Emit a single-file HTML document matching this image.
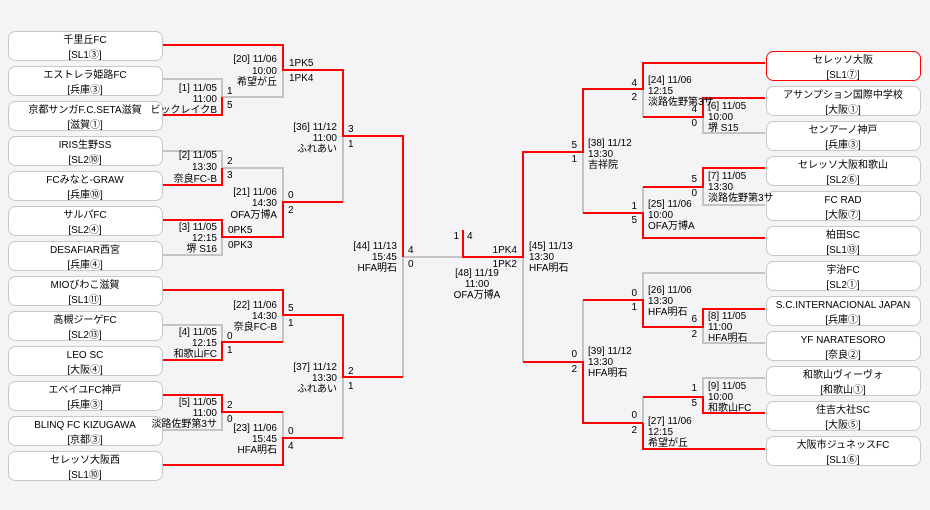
<!DOCTYPE html>
<html><head><meta charset="utf-8"><style>
html,body{margin:0;padding:0;background:#f4f3f6;}
svg{display:block;font-family:"Liberation Sans","Noto Sans CJK JP",sans-serif;font-size:10px;}
</style></head><body>
<svg width="930" height="510" viewBox="0 0 930 510" xmlns="http://www.w3.org/2000/svg">
<rect width="930" height="510" fill="#f4f3f6"/>
<g fill="none" stroke="#c4c4c4" stroke-width="2">
<path d="M283 70V97H222"/><path d="M163 79H222V97"/><path d="M343 136V202"/>
<path d="M163 151H222V168H283V202"/><path d="M222 237V255H163"/>
<path d="M403 257V377"/><path d="M403 257H463"/>
<path d="M163 325H222V342"/><path d="M283 315V342"/><path d="M343 377V438"/>
<path d="M283 412V438"/><path d="M222 412V430H163"/>
<path d="M523 257V362"/><path d="M583 152V213"/><path d="M643 89V117"/>
<path d="M703 117V133H765"/><path d="M703 187V205H765"/><path d="M643 187V213"/>
<path d="M765 273H643V300"/><path d="M703 327V343H765"/><path d="M583 300V362"/>
<path d="M643 397V423"/><path d="M765 378H703V397"/>
</g>
<g fill="none" stroke="#ff0000" stroke-width="2">
<path d="M163 45H283V70H343V136H403V257"/>
<path d="M463 230V257H523V152H583V89H643V63H765"/>
<path d="M163 115H222V97"/><path d="M163 185H222V168"/>
<path d="M163 220H222V237H283V202H343"/>
<path d="M163 290H283V315H343V377H403"/>
<path d="M163 360H222V342H283"/><path d="M163 395H222V412H283"/>
<path d="M163 465H283V438H343"/>
<path d="M643 117H703V98H765"/><path d="M765 168H703V187H643"/>
<path d="M583 213H643V238H765"/>
<path d="M523 362H583V423H643"/><path d="M643 423V449H765"/>
<path d="M643 397H703V413H765"/>
<path d="M583 300H643V327H703V309H765"/>
</g>
<g stroke="#c8c8c8" stroke-width="1" fill="#fff">
<rect x="8.5" y="31.5" width="154" height="29" rx="7"/>
<rect x="8.5" y="66.5" width="154" height="29" rx="7"/>
<rect x="8.5" y="101.5" width="154" height="29" rx="7"/>
<rect x="8.5" y="136.5" width="154" height="29" rx="7"/>
<rect x="8.5" y="171.5" width="154" height="29" rx="7"/>
<rect x="8.5" y="206.5" width="154" height="29" rx="7"/>
<rect x="8.5" y="241.5" width="154" height="29" rx="7"/>
<rect x="8.5" y="276.5" width="154" height="29" rx="7"/>
<rect x="8.5" y="311.5" width="154" height="29" rx="7"/>
<rect x="8.5" y="346.5" width="154" height="29" rx="7"/>
<rect x="8.5" y="381.5" width="154" height="29" rx="7"/>
<rect x="8.5" y="416.5" width="154" height="29" rx="7"/>
<rect x="8.5" y="451.5" width="154" height="29" rx="7"/>
<rect x="766.5" y="51.5" width="154" height="29" rx="7" stroke="#ff0000"/>
<rect x="766.5" y="86.5" width="154" height="29" rx="7"/>
<rect x="766.5" y="121.5" width="154" height="29" rx="7"/>
<rect x="766.5" y="156.5" width="154" height="29" rx="7"/>
<rect x="766.5" y="191.5" width="154" height="29" rx="7"/>
<rect x="766.5" y="226.5" width="154" height="29" rx="7"/>
<rect x="766.5" y="261.5" width="154" height="29" rx="7"/>
<rect x="766.5" y="296.5" width="154" height="29" rx="7"/>
<rect x="766.5" y="331.5" width="154" height="29" rx="7"/>
<rect x="766.5" y="366.5" width="154" height="29" rx="7"/>
<rect x="766.5" y="401.5" width="154" height="29" rx="7"/>
<rect x="766.5" y="436.5" width="154" height="29" rx="7"/>
</g>
<g fill="#000" text-anchor="middle">
<text x="85" y="43">千里丘FC</text><text x="85" y="58">[SL1③]</text>
<text x="85" y="78">エストレラ姫路FC</text><text x="85" y="93">[兵庫③]</text>
<text x="85" y="113">京都サンガF.C.SETA滋賀</text><text x="85" y="128">[滋賀①]</text>
<text x="85" y="148">IRIS生野SS</text><text x="85" y="163">[SL2⑩]</text>
<text x="85" y="183">FCみなと-GRAW</text><text x="85" y="198">[兵庫⑩]</text>
<text x="85" y="218">サルパFC</text><text x="85" y="233">[SL2④]</text>
<text x="85" y="253">DESAFIAR西宮</text><text x="85" y="268">[兵庫④]</text>
<text x="85" y="288">MIOびわこ滋賀</text><text x="85" y="303">[SL1⑪]</text>
<text x="85" y="323">高槻ジーゲFC</text><text x="85" y="338">[SL2⑬]</text>
<text x="85" y="358">LEO SC</text><text x="85" y="373">[大阪④]</text>
<text x="85" y="393">エベイユFC神戸</text><text x="85" y="408">[兵庫③]</text>
<text x="85" y="428">BLINQ FC KIZUGAWA</text><text x="85" y="443">[京都③]</text>
<text x="85" y="463">セレッソ大阪西</text><text x="85" y="478">[SL1⑩]</text>
<text x="843" y="63">セレッソ大阪</text><text x="843" y="78">[SL1⑦]</text>
<text x="843" y="98">アサンプション国際中学校</text><text x="843" y="113">[大阪①]</text>
<text x="843" y="133">センアーノ神戸</text><text x="843" y="148">[兵庫③]</text>
<text x="843" y="168">セレッソ大阪和歌山</text><text x="843" y="183">[SL2⑥]</text>
<text x="843" y="203">FC RAD</text><text x="843" y="218">[大阪⑦]</text>
<text x="843" y="238">柏田SC</text><text x="843" y="253">[SL1⑬]</text>
<text x="843" y="273">宇治FC</text><text x="843" y="288">[SL2①]</text>
<text x="843" y="308">S.C.INTERNACIONAL JAPAN</text><text x="843" y="323">[兵庫①]</text>
<text x="843" y="343">YF NARATESORO</text><text x="843" y="358">[奈良②]</text>
<text x="843" y="378">和歌山ヴィーヴォ</text><text x="843" y="393">[和歌山①]</text>
<text x="843" y="413">住吉大社SC</text><text x="843" y="428">[大阪⑤]</text>
<text x="843" y="448">大阪市ジュネッスFC</text><text x="843" y="463">[SL1⑥]</text>
<text x="477" y="276">[48] 11/19</text><text x="477" y="287">11:00</text><text x="477" y="298">OFA万博A</text>
</g>
<g fill="#000" text-anchor="end">
<text x="277" y="62">[20] 11/06</text><text x="277" y="74">10:00</text><text x="277" y="85">希望が丘</text>
<text x="217" y="91">[1] 11/05</text><text x="217" y="102">11:00</text><text x="217" y="113">ビックレイクB</text>
<text x="337" y="130">[36] 11/12</text><text x="337" y="141">11:00</text><text x="337" y="152">ふれあい</text>
<text x="217" y="158">[2] 11/05</text><text x="217" y="170">13:30</text><text x="217" y="182">奈良FC-B</text>
<text x="277" y="195">[21] 11/06</text><text x="277" y="206">14:30</text><text x="277" y="218">OFA万博A</text>
<text x="217" y="230">[3] 11/05</text><text x="217" y="241">12:15</text><text x="217" y="252">堺 S16</text>
<text x="397" y="249">[44] 11/13</text><text x="397" y="260">15:45</text><text x="397" y="271">HFA明石</text>
<text x="277" y="308">[22] 11/06</text><text x="277" y="319">14:30</text><text x="277" y="330">奈良FC-B</text>
<text x="217" y="335">[4] 11/05</text><text x="217" y="346">12:15</text><text x="217" y="357">和歌山FC</text>
<text x="337" y="370">[37] 11/12</text><text x="337" y="381">13:30</text><text x="337" y="392">ふれあい</text>
<text x="217" y="405">[5] 11/05</text><text x="217" y="416">11:00</text><text x="217" y="427">淡路佐野第3サ</text>
<text x="277" y="431">[23] 11/06</text><text x="277" y="442">15:45</text><text x="277" y="453">HFA明石</text>
<text x="459" y="239">1</text>
<text x="517" y="253">1PK4</text><text x="517" y="267">1PK2</text>
<text x="577" y="148">5</text><text x="577" y="162">1</text>
<text x="637" y="86">4</text><text x="637" y="100">2</text>
<text x="697" y="112">4</text><text x="697" y="126">0</text>
<text x="697" y="182">5</text><text x="697" y="196">0</text>
<text x="637" y="209">1</text><text x="637" y="223">5</text>
<text x="637" y="296">0</text><text x="637" y="310">1</text>
<text x="697" y="322">6</text><text x="697" y="337">2</text>
<text x="577" y="357">0</text><text x="577" y="372">2</text>
<text x="697" y="391">1</text><text x="697" y="406">5</text>
<text x="637" y="418">0</text><text x="637" y="433">2</text>
</g>
<g fill="#000">
<text x="289" y="66">1PK5</text><text x="289" y="81">1PK4</text>
<text x="227" y="94">1</text><text x="227" y="108">5</text>
<text x="348" y="132">3</text><text x="348" y="147">1</text>
<text x="227" y="164">2</text><text x="227" y="178">3</text>
<text x="288" y="198">0</text><text x="288" y="213">2</text>
<text x="228" y="233">0PK5</text><text x="228" y="248">0PK3</text>
<text x="408" y="253">4</text><text x="408" y="267">0</text>
<text x="467" y="239">4</text>
<text x="529" y="249">[45] 11/13</text><text x="529" y="260">13:30</text><text x="529" y="271">HFA明石</text>
<text x="588" y="146">[38] 11/12</text><text x="588" y="157">13:30</text><text x="588" y="168">吉祥院</text>
<text x="648" y="83">[24] 11/06</text><text x="648" y="94">12:15</text><text x="648" y="105">淡路佐野第3サ</text>
<text x="708" y="109">[6] 11/05</text><text x="708" y="120">10:00</text><text x="708" y="131">堺 S15</text>
<text x="708" y="179">[7] 11/05</text><text x="708" y="190">13:30</text><text x="708" y="201">淡路佐野第3サ</text>
<text x="648" y="207">[25] 11/06</text><text x="648" y="218">10:00</text><text x="648" y="229">OFA万博A</text>
<text x="648" y="293">[26] 11/06</text><text x="648" y="304">13:30</text><text x="648" y="315">HFA明石</text>
<text x="708" y="319">[8] 11/05</text><text x="708" y="330">11:00</text><text x="708" y="341">HFA明石</text>
<text x="588" y="354">[39] 11/12</text><text x="588" y="365">13:30</text><text x="588" y="376">HFA明石</text>
<text x="708" y="389">[9] 11/05</text><text x="708" y="400">10:00</text><text x="708" y="411">和歌山FC</text>
<text x="648" y="424">[27] 11/06</text><text x="648" y="435">12:15</text><text x="648" y="446">希望が丘</text>
<text x="288" y="311">5</text><text x="288" y="326">1</text>
<text x="227" y="339">0</text><text x="227" y="353">1</text>
<text x="348" y="374">2</text><text x="348" y="389">1</text>
<text x="227" y="408">2</text><text x="227" y="422">0</text>
<text x="288" y="434">0</text><text x="288" y="449">4</text>
</g>
</svg>
</body></html>
